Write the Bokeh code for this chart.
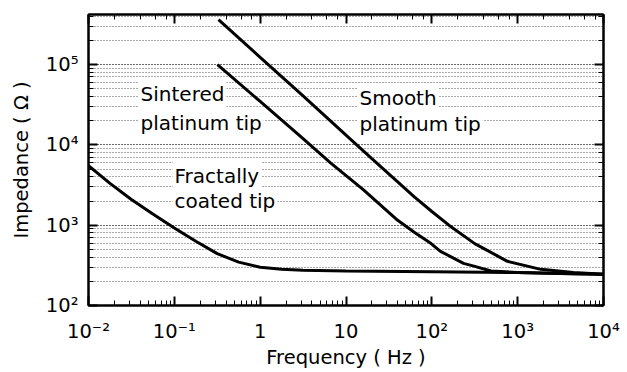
from bokeh.plotting import figure
from bokeh.models import LogAxis, Label, CustomJSTickFormatter, Range1d
from bokeh.embed import file_html
from bokeh.resources import INLINE

# ---- data ----
fractal_x = [0.01, 0.0178, 0.0316, 0.0562, 0.1, 0.178, 0.316, 0.562, 1, 1.78, 3.16, 10, 100, 1000, 3162, 10000]
fractal_y = [5495, 3311, 2089, 1380, 923, 631, 442, 347, 299, 282, 275, 269, 263, 257, 251, 245]

sintered_x = [0.318, 1, 3.16, 6.6, 16, 40, 63, 98, 126, 234, 309, 490, 1000, 3162, 10000]
sintered_y = [100000, 34700, 12000, 5960, 2750, 1150, 813, 590, 473, 335, 309, 269, 257, 251, 245]

smooth_x = [0.327, 1, 3.16, 10, 20, 40, 63, 100, 158, 316, 760, 1860, 4470, 10000]
smooth_y = [363000, 123000, 40700, 13200, 6760, 3470, 2240, 1480, 1000, 589, 355, 282, 257, 245]

x_tick_labels = {0.01: "10\u207b\u00b2", 0.1: "10\u207b\u00b9", 1: "1", 10: "10",
                 100: "10\u00b2", 1000: "10\u00b3", 10000: "10\u2074"}
y_tick_labels = {100: "10\u00b2", 1000: "10\u00b3", 10000: "10\u2074", 100000: "10\u2075"}

labels = [
    ("Sintered", 0.0383, 43600),
    ("platinum tip", 0.0383, 18800),
    ("Smooth", 13.6, 38700),
    ("platinum tip", 13.6, 18300),
    ("Fractally", 0.0953, 4100),
    ("coated tip", 0.0953, 2000),
]

FONT = "DejaVu Sans"

p = figure(width=620, height=371, x_axis_type="log", y_axis_type="log",
           x_range=Range1d(0.01, 10000), y_range=Range1d(100, 4.2e5),
           output_backend="svg", toolbar_location=None,
           min_border_left=88, min_border_right=17, min_border_top=14, min_border_bottom=60)

p.background_fill_color = "white"
p.outline_line_color = "black"
p.outline_line_width = 2

# grid: only horizontal dotted lines at every major and minor y tick
p.xgrid.grid_line_color = None
p.ygrid.grid_line_color = "#555555"
p.ygrid.grid_line_dash = "1 2"
p.ygrid.grid_line_width = 1
p.ygrid.minor_grid_line_color = "#555555"
p.ygrid.minor_grid_line_dash = "1 2"
p.ygrid.minor_grid_line_width = 1

for ax in (p.xaxis[0], p.yaxis[0]):
    ax.axis_line_color = "black"
    ax.axis_line_width = 2
    ax.major_tick_in = 9
    ax.major_tick_out = 0
    ax.minor_tick_in = 5
    ax.minor_tick_out = 0
    ax.major_tick_line_width = 2
    ax.minor_tick_line_width = 1
    ax.major_tick_line_color = "black"
    ax.minor_tick_line_color = "black"
    ax.major_label_text_font = FONT
    ax.major_label_text_font_size = "19.5px"
    ax.major_label_text_color = "black"
    ax.axis_label_text_font = FONT
    ax.axis_label_text_font_size = "19.5px"
    ax.axis_label_text_font_style = "normal"
    ax.axis_label_text_color = "black"

p.xaxis.major_label_overrides = x_tick_labels
p.yaxis.major_label_overrides = y_tick_labels
p.xaxis.axis_label = "Frequency ( Hz )"
p.yaxis.axis_label = "Impedance ( \u03a9 )"
p.xaxis.major_label_standoff = 14
p.yaxis.major_label_standoff = 10
p.xaxis.axis_label_standoff = 0
p.yaxis.axis_label_standoff = 10

blank = CustomJSTickFormatter(code="return ''")
top = LogAxis(formatter=blank, major_tick_in=9, major_tick_out=0, minor_tick_in=5, minor_tick_out=0,
              axis_line_width=2, major_tick_line_width=2)
right = LogAxis(formatter=blank, major_tick_in=9, major_tick_out=0, minor_tick_in=5, minor_tick_out=0,
                axis_line_width=2, major_tick_line_width=2)
p.add_layout(top, "above")
p.add_layout(right, "right")

for xs, ys in ((fractal_x, fractal_y), (sintered_x, sintered_y), (smooth_x, smooth_y)):
    p.line(xs, ys, line_color="black", line_width=3)

for txt, lx, ly in labels:
    p.add_layout(Label(x=lx, y=ly, text=txt, text_font=FONT, text_font_size="20px",
                       text_color="black", text_align="left", text_baseline="middle",
                       background_fill_color="white", padding=2))

open("out.html", "w").write(file_html(p, INLINE))
